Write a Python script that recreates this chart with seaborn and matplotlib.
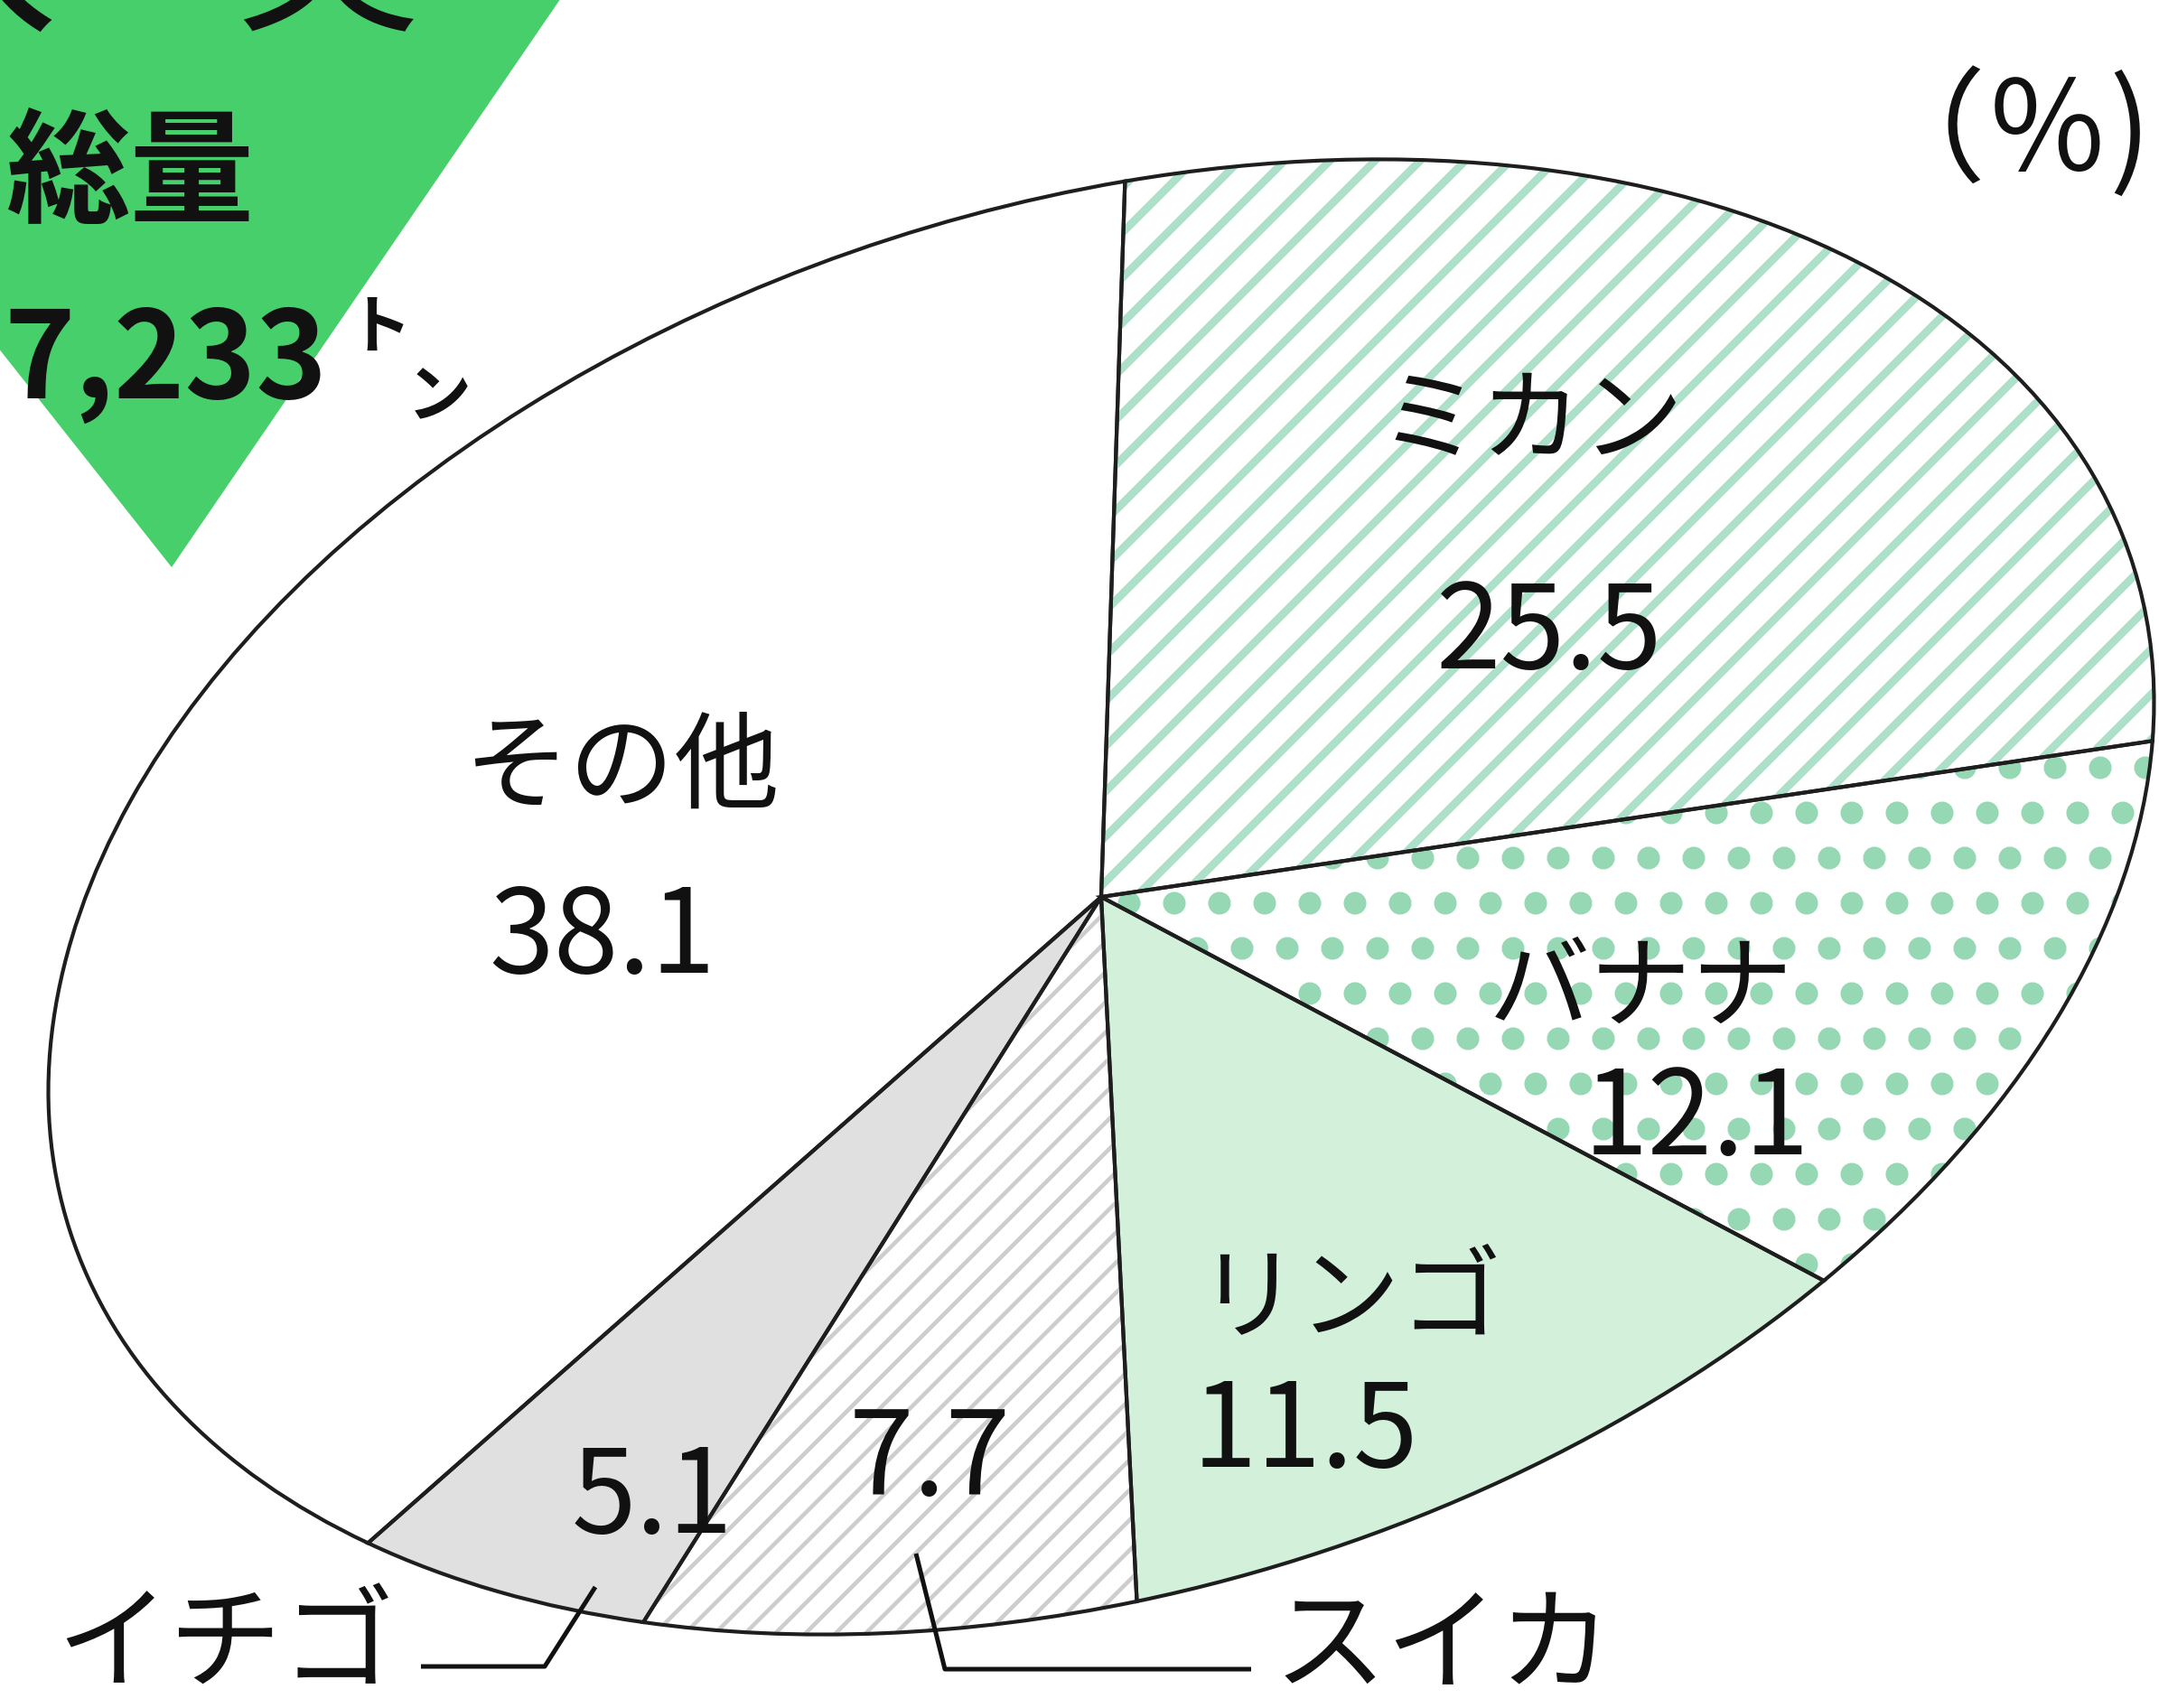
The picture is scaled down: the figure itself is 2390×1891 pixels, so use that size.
import matplotlib
matplotlib.use("Agg")
import matplotlib.pyplot as plt
from matplotlib.patches import Polygon
from matplotlib.transforms import Affine2D
import seaborn as sns

# data (%)
fruits = ["ミカン", "バナナ", "リンゴ", "スイカ", "イチゴ", "その他"]
shares = [25.5, 12.1, 11.5, 7.7, 5.1, 38.1]
total_amount = "7,233"
total_unit = ["ト", "ン"]

# dpi 300 so the hatch tile (one inch) gives stripe / dot spacing like the print
W, H, DPI = 2390, 1891, 300

sns.set_theme(style="white")
plt.rcParams["font.family"] = ["Noto Sans CJK JP", "DejaVu Sans"]
plt.rcParams["hatch.linewidth"] = 2.0

# slice styles
face = ["white", "white", "#d2f0da", "white", "#e0e0e0", "white"]
hatches = ["//", ".", None, "///", None, None]
hatch_cols = ["#ade0c8", "#97d8b4", None, "#cdcdcd", None, None]
hatch_lws = [2.1, 3.6, 0, 1.1, 0, 0]

# label layout in pixels (x right, y down); the two outside labels sit on the bottom edge
name_xy = [(1695, 469), (1817, 1097), (1494, 1440), (1597, 1890), (250, 1889), (688, 853)]
name_va = ["center", "center", "center", "bottom", "bottom", "center"]
name_size = [27, 27, 27, 30, 30, 28]
value_xy = [(1715, 704), (1878, 1242), (1445, 1588), (1029, 1619), (722, 1661), (667, 1041)]

fig = plt.figure(figsize=(W / DPI, H / DPI), dpi=DPI)
ax = fig.add_axes([0, 0, 1, 1])


def py(y):
    return H - y


# green triangle badge, top left
ax.add_patch(Polygon([(-330, py(-30)), (640, py(-30)), (190, py(628))],
                     closed=True, facecolor="#46cf6b", edgecolor="none", zorder=0))

# tilted ellipse the pie is squashed into
ell = Affine2D().scale(1200, 765).rotate_deg(18).translate(1219, py(993)) + ax.transData

fills, _ = ax.pie(shares, startangle=77, counterclock=False, colors=face,
                  wedgeprops=dict(linewidth=0))
for w, h, hc, lw in zip(fills, hatches, hatch_cols, hatch_lws):
    w.set_transform(ell)
    w.set_zorder(1)
    if h:
        w.set_hatch(h)
        w.set_edgecolor(hc)
        if hasattr(w, "set_hatchcolor"):
            w.set_hatchcolor(hc)
        if hasattr(w, "set_hatch_linewidth"):
            w.set_hatch_linewidth(lw)

edges, _ = ax.pie(shares, startangle=77, counterclock=False,
                  wedgeprops=dict(fill=False, edgecolor="#1e1e1e", linewidth=1.0))
for w in edges:
    w.set_transform(ell)
    w.set_zorder(2)

ink = "#111111"
for name, val, (nx, ny), va, ns, (vx, vy) in zip(fruits, shares, name_xy, name_va,
                                                 name_size, value_xy):
    ax.text(nx, py(ny), name, fontsize=ns, color=ink, ha="center", va=va, zorder=5)
    ax.text(vx, py(vy), f"{val:.1f}", fontsize=31, color=ink, ha="center", va="center",
            zorder=5)

# leader lines for the two outside labels
lead = dict(color=ink, lw=1.2, zorder=4, solid_capstyle="butt")
ax.plot([466, 603, 659], [py(1845), py(1845), py(1757)], **lead)
ax.plot([1385, 1046, 1014], [py(1848), py(1848), py(1720)], **lead)

ax.text(2382, py(150), "（％)", fontsize=33, color=ink, ha="right", va="center", zorder=5)

# badge text
ax.text(6, py(196), "総量", fontsize=33, fontweight="bold", color=ink,
        ha="left", va="center", zorder=5)
ax.text(4, py(402), total_amount, fontsize=32, fontweight="bold", color=ink,
        ha="left", va="center", zorder=5)
ax.text(420, py(364), total_unit[0], fontsize=17, fontweight="bold", color=ink,
        ha="center", va="center", zorder=5)
ax.text(486, py(440), total_unit[1], fontsize=17, fontweight="bold", color=ink,
        ha="center", va="center", zorder=5)

# cut-off heading above the badge
ax.text(-40, py(18), "入", fontsize=50, color=ink, ha="center", va="baseline", zorder=5)
ax.text(362, py(18), "実", fontsize=50, color=ink, ha="center", va="baseline", zorder=5)

ax.set_xlim(0, W)
ax.set_ylim(0, H)
ax.set_aspect("auto")
ax.axis("off")

fig.savefig("out.png", dpi=DPI, facecolor="white")
